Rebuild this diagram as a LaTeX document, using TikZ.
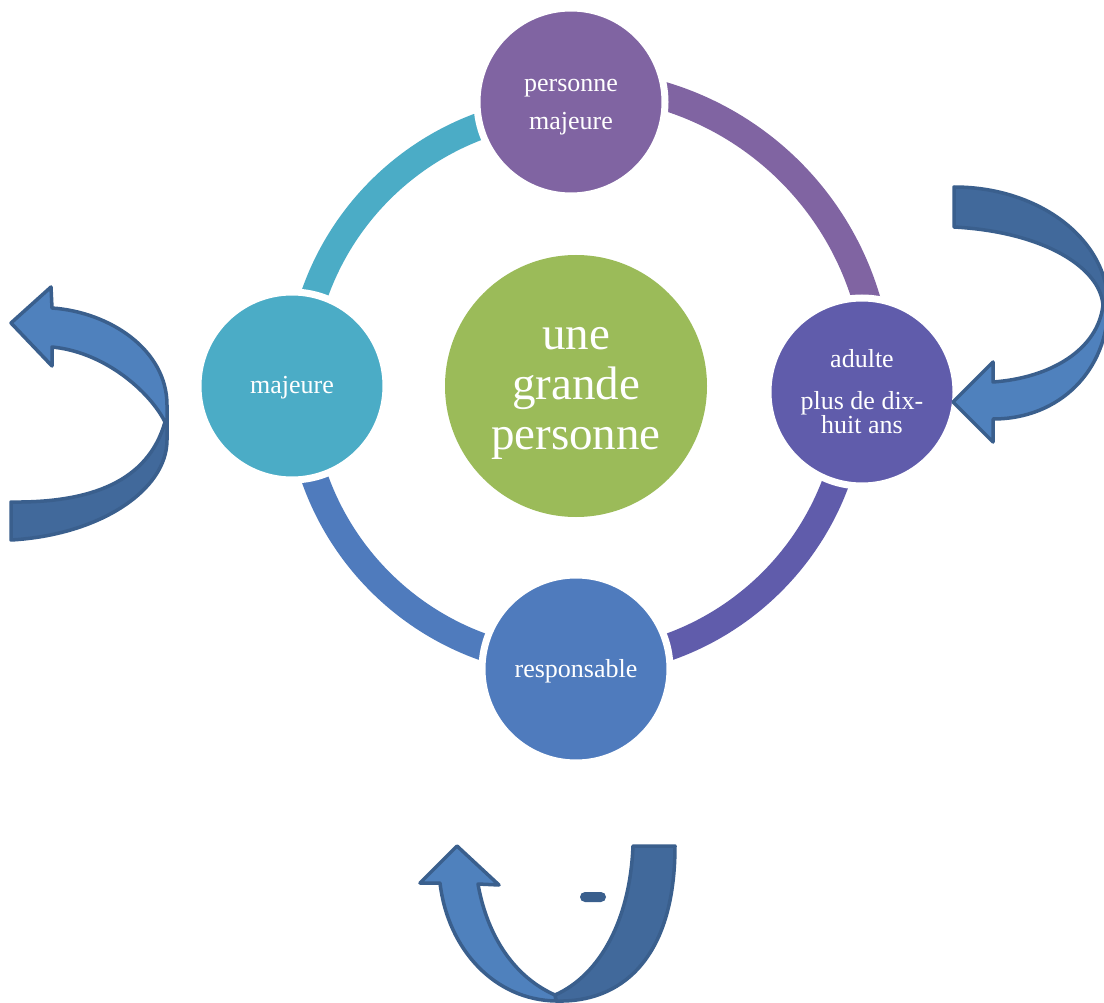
\documentclass[tikz,border=0pt]{standalone}
\usepackage{fontspec}
\setmainfont{Liberation Serif}
\definecolor{cgreen}{HTML}{9BBB59}
\definecolor{cpurple}{HTML}{8064A2}
\definecolor{cindigo}{HTML}{605CAB}
\definecolor{cblue}{HTML}{4F7BBD}
\definecolor{ccyan}{HTML}{4BACC6}
\definecolor{alight}{HTML}{4F81BD}
\definecolor{adark}{HTML}{41699B}
\definecolor{aline}{HTML}{3A5F8D}
\begin{document}
\begin{tikzpicture}[x=1pt,y=1pt,yscale=-1,
  bubble/.style={circle, inner sep=0pt, draw=white, line width=7pt, minimum size=188pt,
    text=white, font=\fontsize{26}{24}\selectfont, align=center},
  ringarc/.style={line width=27pt},
  arrowlight/.style={fill=alight, draw=aline, line width=3.5pt, line join=round},
  arrowdark/.style={fill=adark, draw=aline, line width=3.5pt, line join=round}]
\useasboundingbox (0,0) rectangle (1104,1003);
\fill[white] (0,0) rectangle (1104,1003);
\coordinate (ringc) at (576,386);
% ring arcs
\draw[ringarc, ccyan] ([shift={(180:277pt)}]ringc) arc[start angle=180, end angle=269, radius=277pt];
\draw[ringarc, line width=28pt, cpurple] ([shift={(269:303pt)}]ringc) arc[start angle=269, end angle=361.2, radius=303pt];
\draw[ringarc, cindigo] ([shift={(1.2:277pt)}]ringc) arc[start angle=1.2, end angle=90, radius=277pt];
\draw[ringarc, cblue] ([shift={(90:277pt)}]ringc) arc[start angle=90, end angle=180, radius=277pt];
% circles
\node[bubble, fill=cpurple] (top) at (571,102) {\rule{0pt}{22pt}personne\\[14pt]majeure};
\node[bubble, fill=cindigo] (right) at (862,392) {adulte\\[18pt]plus de dix-\\huit ans};
\node[bubble, fill=cblue, text height=22pt, text depth=6pt] (bottom) at (576,669) {responsable};
\node[bubble, fill=ccyan, text height=21pt, text depth=6pt] (left) at (292,386) {majeure};
\node[circle, fill=cgreen, minimum size=262pt, inner sep=0pt, text=white,
  font=\fontsize{47}{50}\selectfont, align=center] (center) at (576,386) {\rule{0pt}{38pt}une\\grande\\personne};
% curved arrows
\begin{scope}
\clip (0,0) rectangle (1104,1003);
% left arrow
\coordinate (LM) at (165,422);
\draw[arrowdark] (LM) -- (167,422) -- (167,440) .. controls (167,490) and (100,535) .. (11,540)
  -- (11,502) .. controls (90,503) and (148,482) .. (LM) -- cycle;
\draw[arrowlight] (11,323) -- (51,287) -- (52,308) .. controls (110,312) and (167,350) .. (167,405)
  -- (167,422) -- (LM) .. controls (150,392) and (105,352) .. (52,347) -- (52,366) -- cycle;
% right arrow
\coordinate (RM) at (1103,305);
\draw[arrowdark] (954,187) .. controls (1040,187) and (1108,240) .. (1108,305) -- (RM)
  .. controls (1100,268) and (1045,232) .. (954,227) -- cycle;
\draw[arrowlight] (RM) -- (1108,305) .. controls (1108,370) and (1060,419) .. (993,419)
  -- (993,442) -- (953,402) -- (993,362) -- (993,382) .. controls (1050,378) and (1098,350) .. (RM) -- cycle;
% bottom arrow
\coordinate (BM) at (555,995);
\draw[arrowdark] (BM) .. controls (600,975) and (630,920) .. (633,846) -- (675,846)
  .. controls (675,960) and (620,1003) .. (556,1001) -- cycle;
\draw[arrowlight] (457,846) -- (499,885) -- (478,884) .. controls (486,930) and (510,975) .. (BM)
  -- (556,1001) .. controls (495,1000) and (448,950) .. (440,883) -- (420,883) -- cycle;
\end{scope}
\node[fill=aline, rounded corners=5pt, minimum width=26pt, minimum height=10pt, inner sep=0pt] (dash) at (593,897) {};
\end{tikzpicture}
\end{document}
